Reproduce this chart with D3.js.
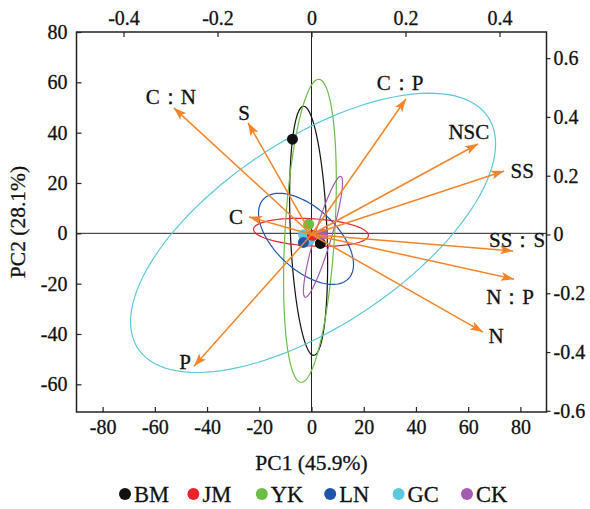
<!DOCTYPE html>
<html lang="en">
<head>
<meta charset="utf-8">
<title>PCA biplot</title>
<script src="https://cdn.jsdelivr.net/npm/d3@7"></script>
<style>
  body { margin: 0; background: white; }
  svg text { font-family: "Liberation Serif", "Times New Roman", serif; fill: #111; stroke: #111; stroke-width: 0.3px; }
</style>
</head>
<body>
<div id="chart"></div>
<script>
// ---- data ----
var groups = ["BM", "JM", "YK", "LN", "GC", "CK"];
var groupColors = ["#111111", "#e8232b", "#6cbd45", "#1f55a8", "#5cc8dc", "#a55cb0"];

// sample scores (PC1, PC2)
var scoreGroup = ["BM", "BM", "YK", "GC", "GC", "LN", "JM", "CK"];
var scorePC1   = [-7.3, 3.4, -1.1, -3.0, -0.8, -3.1, 0.4, 4.2];
var scorePC2   = [37.4, -4.0, 3.6, -0.6, -2.6, -3.6, -0.8, -0.4];

// confidence ellipses: centre + covariance
var ellCx  = [-1.1, -0.2, -0.6, -2.1, 0.6, 4.4];
var ellCy  = [1.0, 0.4, 1.0, -2.2, 0.2, -1.4];
var ellSxx = [53, 484, 102, 331, 4886, 56];
var ellSyy = [2450, 31, 3624, 328, 3080, 576];
var ellSxy = [-95, -26, 200, -185, 2470, 161];

// variable loadings
var vars  = ["C：N", "S", "C", "C：P", "NSC", "SS", "SS：S", "N：P", "N", "P"];
var load1 = [-0.293, -0.135, -0.133, 0.201, 0.354, 0.410, 0.429, 0.431, 0.365, -0.250];
var load2 = [0.431, 0.380, 0.060, 0.461, 0.308, 0.216, -0.056, -0.152, -0.332, -0.448];

var pc1Ticks = [-80, -60, -40, -20, 0, 20, 40, 60, 80];
var pc2Ticks = [-60, -40, -20, 0, 20, 40, 60, 80];
var load1Ticks = [-0.4, -0.2, 0, 0.2, 0.4];
var load2Ticks = [-0.6, -0.4, -0.2, 0, 0.2, 0.4, 0.6];

// label offsets from arrow tips (px)
var labelDx = [-3, -4, -13, -6, -9, 18, 4, -4, 13, -9];
var labelDy = [-11, -10, 0, -16, -12, 0, -11, 18, 4, -4];

// ---- layout ----
var W = 590, H = 509;
var pL = 76.5, pR = 546.5, pT = 32, pB = 412;
var orange = "#f58428";

var svg = d3.select("#chart").append("svg")
  .attr("width", W).attr("height", H);

var x = d3.scaleLinear().domain([-90, 90]).range([pL, pR]);
var y = d3.scaleLinear().domain([-71, 80]).range([pB, pT]);
var xL = d3.scaleLinear().domain([-0.5, 0.5]).range([pL, pR]);
var yL = d3.scaleLinear().domain([-0.604, 0.689]).range([pB, pT]);

var fmt = function(d) { return String(d); };

function styleAxis(g) {
  g.select(".domain").remove();
  g.selectAll("line").attr("stroke", "#222").attr("stroke-width", 1.2);
  g.selectAll("text").attr("font-size", 20).attr("fill", "#111")
    .attr("font-family", "Liberation Serif, serif");
}

svg.append("g").attr("transform", "translate(0," + pB + ")")
  .call(d3.axisBottom(x).tickValues(pc1Ticks).tickFormat(fmt).tickSizeInner(-5).tickSizeOuter(0).tickPadding(8))
  .call(styleAxis);
svg.append("g").attr("transform", "translate(" + pL + ",0)")
  .call(d3.axisLeft(y).tickValues(pc2Ticks).tickFormat(fmt).tickSizeInner(-5).tickSizeOuter(0).tickPadding(9))
  .call(styleAxis);
svg.append("g").attr("transform", "translate(0," + pT + ")")
  .call(d3.axisTop(xL).tickValues(load1Ticks).tickFormat(fmt).tickSizeInner(-5).tickSizeOuter(0).tickPadding(7))
  .call(styleAxis);
svg.append("g").attr("transform", "translate(" + pR + ",0)")
  .call(d3.axisRight(yL).tickValues(load2Ticks).tickFormat(fmt).tickSizeInner(4).tickSizeOuter(0).tickPadding(3))
  .call(styleAxis);

// zero lines
svg.append("line").attr("x1", pL).attr("x2", pR).attr("y1", y(0)).attr("y2", y(0))
  .attr("stroke", "#222").attr("stroke-width", 1);
svg.append("line").attr("x1", x(0)).attr("x2", x(0)).attr("y1", pT).attr("y2", pB)
  .attr("stroke", "#222").attr("stroke-width", 1);

// ellipses
var ellLine = d3.line().x(function(d) { return x(d[0]); }).y(function(d) { return y(d[1]); })
  .curve(d3.curveLinearClosed);
groups.forEach(function(g, i) {
  var l11 = Math.sqrt(ellSxx[i]);
  var l21 = ellSxy[i] / l11;
  var l22 = Math.sqrt(ellSyy[i] - l21 * l21);
  var pts = d3.range(0, 120).map(function(k) {
    var t = k / 120 * 2 * Math.PI;
    return [ellCx[i] + l11 * Math.cos(t), ellCy[i] + l21 * Math.cos(t) + l22 * Math.sin(t)];
  });
  svg.append("path").attr("d", ellLine(pts))
    .attr("fill", "none").attr("stroke", groupColors[i]).attr("stroke-width", 1.2);
});

// points
var colorOf = d3.scaleOrdinal().domain(groups).range(groupColors);
svg.selectAll("circle.pt").data(scoreGroup).enter().append("circle")
  .attr("class", "pt")
  .attr("cx", function(d, i) { return x(scorePC1[i]); })
  .attr("cy", function(d, i) { return y(scorePC2[i]); })
  .attr("r", 5.5)
  .attr("fill", function(d) { return colorOf(d); });

// arrows
svg.append("defs").append("marker")
  .attr("id", "head").attr("markerUnits", "userSpaceOnUse")
  .attr("markerWidth", 14).attr("markerHeight", 10)
  .attr("refX", 13).attr("refY", 4.5).attr("orient", "auto")
  .append("path").attr("d", "M0,0 L13,4.5 L0,9 L3,4.5 Z").attr("fill", orange);

vars.forEach(function(v, i) {
  var tx = xL(load1[i]), ty = yL(load2[i]);
  svg.append("line")
    .attr("x1", xL(0)).attr("y1", yL(0)).attr("x2", tx).attr("y2", ty)
    .attr("stroke", orange).attr("stroke-width", 1.5)
    .attr("marker-end", "url(#head)");
  svg.append("text")
    .attr("x", tx + labelDx[i]).attr("y", ty + labelDy[i])
    .attr("text-anchor", "middle").attr("dominant-baseline", "central")
    .attr("font-size", 21).text(v);
});

// frame
svg.append("rect").attr("x", pL).attr("y", pT)
  .attr("width", pR - pL).attr("height", pB - pT)
  .attr("fill", "none").attr("stroke", "#222").attr("stroke-width", 1.5);

// axis titles
svg.append("text").attr("x", (pL + pR) / 2).attr("y", 463)
  .attr("text-anchor", "middle").attr("dominant-baseline", "central")
  .attr("font-size", 21.5).text("PC1 (45.9%)");
svg.append("text")
  .attr("transform", "translate(18," + ((pT + pB) / 2) + ") rotate(-90)")
  .attr("text-anchor", "middle").attr("dominant-baseline", "central")
  .attr("font-size", 21.5).text("PC2 (28.1%)");

// legend
var legX = d3.scalePoint().domain(groups).range([125, 467]);
var leg = svg.selectAll("g.leg").data(groups).enter().append("g")
  .attr("class", "leg")
  .attr("transform", function(d) { return "translate(" + legX(d) + ",494)"; });
leg.append("circle").attr("r", 6).attr("fill", function(d, i) { return groupColors[i]; });
leg.append("text").attr("x", 9).attr("dominant-baseline", "central")
  .attr("font-size", 22.5).text(function(d) { return d; });
</script>
</body>
</html>
